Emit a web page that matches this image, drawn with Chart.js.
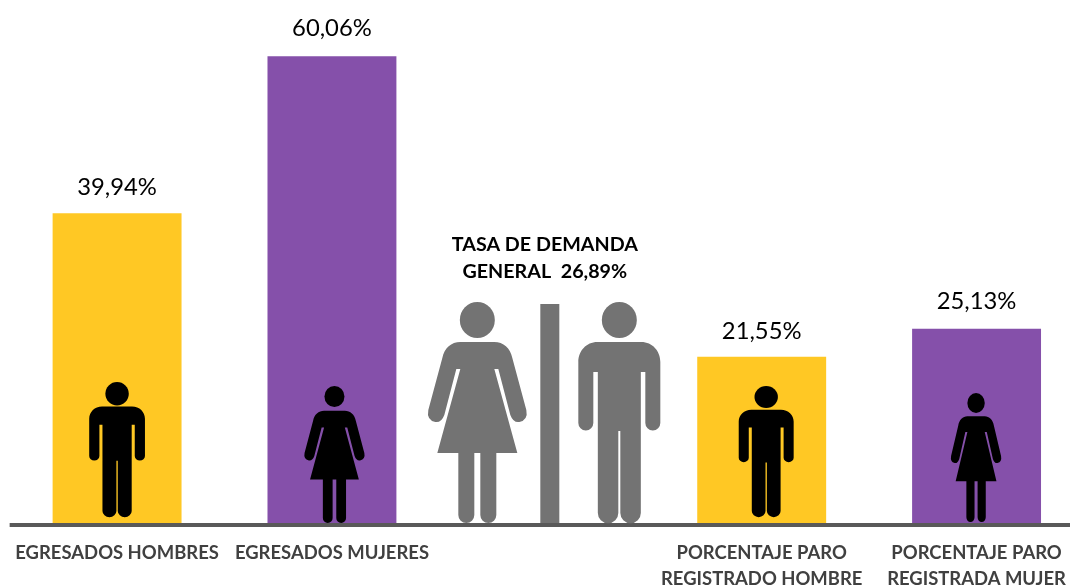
<!DOCTYPE html>
<html lang="es"><head><meta charset="utf-8">
<style>html,body{margin:0;padding:0;background:#fff;overflow:hidden;width:1070px;height:586px}canvas{display:block}</style>
<script src="https://cdn.jsdelivr.net/npm/chart.js@4"></script>
</head><body>
<canvas id="c" width="1090" height="586"></canvas>
<script>
const categories = [
  "EGRESADOS HOMBRES",
  "EGRESADOS MUJERES",
  "",
  ["PORCENTAJE PARO", "REGISTRADO HOMBRE"],
  ["PORCENTAJE PARO", "REGISTRADA MUJER"]
];
const values = [39.94, 60.06, null, 21.55, 25.13];
const barColors = ["#FFC824", "#8550AA", "#737373", "#FFC824", "#8550AA"];
const demandTitle = ["TASA DE DEMANDA", "GENERAL  26,89%"];

const FONT = "Lato, Carlito, sans-serif";
const fmt = v => v.toFixed(2).replace(".", ",") + "%";
const labelLift = {0:26, 1:28, 3:25, 4:28};

function manPath(){
  const p = new Path2D();
  p.moveTo(-22,40); p.lineTo(22,40);
  p.bezierCurveTo(33,40,41,49,41,60);
  p.lineTo(41,121); p.arc(33.5,121,7.5,0,Math.PI);
  p.lineTo(26,70); p.lineTo(21.5,70); p.lineTo(21.5,211);
  p.arc(11.25,211,10.25,0,Math.PI);
  p.lineTo(1,129); p.lineTo(-1,129); p.lineTo(-1,211);
  p.arc(-11.25,211,10.25,0,Math.PI);
  p.lineTo(-21.5,70); p.lineTo(-26,70); p.lineTo(-26,121);
  p.arc(-33.5,121,7.5,0,Math.PI);
  p.lineTo(-41,60);
  p.bezierCurveTo(-41,49,-33,40,-22,40);
  p.closePath();
  return p;
}
function womanPath(){
  const p = new Path2D();
  p.moveTo(-17,40); p.lineTo(17,40);
  p.bezierCurveTo(26,40,33,46,35,56);
  p.lineTo(49,108); p.quadraticCurveTo(51,118,42,120);
  p.quadraticCurveTo(36,121,33,113);
  p.lineTo(21,67); p.lineTo(17,67); p.lineTo(40,151); p.lineTo(19,151);
  p.lineTo(19,213); p.arc(11,213,8,0,Math.PI);
  p.lineTo(3,151); p.lineTo(-3,151); p.lineTo(-3,213);
  p.arc(-11,213,8,0,Math.PI);
  p.lineTo(-19,151); p.lineTo(-40,151); p.lineTo(-17,67); p.lineTo(-21,67);
  p.lineTo(-33,113); p.quadraticCurveTo(-36,121,-42,120);
  p.quadraticCurveTo(-51,118,-49,108);
  p.lineTo(-35,56); p.bezierCurveTo(-33,46,-26,40,-17,40);
  p.closePath();
  return p;
}
const MAN = manPath(), WOMAN = womanPath();
// icon placement: category index, horizontal offset, height, gap above baseline, horizontal scale, head radii
const icons = [
  {i:0, dx:0,    h:135, up:8, sx:0.68, rx:11.7, ry:11.7, path:MAN,   color:"#000"},
  {i:1, dx:2.5,  h:137, up:2, sx:0.61, rx:10,   ry:10.5, path:WOMAN, color:"#000"},
  {i:2, dx:-69.5,h:221, up:2, sx:1,    rx:17.5, ry:18,   path:WOMAN, color:"#737373"},
  {i:2, dx:72.5, h:221, up:2, sx:1,    rx:17.5, ry:18,   path:MAN,   color:"#737373"},
  {i:3, dx:4.5,  h:131, up:8, sx:0.67, rx:11.7, ry:11,   path:MAN,   color:"#000"},
  {i:4, dx:-0.5, h:129, up:3, sx:0.51, rx:8.7,  ry:10,   path:WOMAN, color:"#000"}
];

const decor = {
  id:"decor",
  afterDatasetsDraw(chart){
    const {ctx, chartArea, scales:{x,y}} = chart;
    const y0 = y.getPixelForValue(0);
    ctx.save();
    // baseline
    ctx.fillStyle = "#595959";
    ctx.fillRect(chartArea.left, y0-2, chartArea.right-chartArea.left, 4);
    // separator + pictograms
    ctx.fillStyle = "#737373";
    ctx.fillRect(x.getPixelForValue(2)-6.5, y0-221, 19, 219);
    icons.forEach(o=>{
      const cx = x.getPixelForValue(o.i)+o.dx, top = y0-o.up-o.h;
      ctx.fillStyle = o.color;
      ctx.beginPath();
      ctx.ellipse(cx, top+o.ry, o.rx, o.ry, 0, 0, Math.PI*2);
      ctx.fill();
      ctx.save();
      ctx.translate(cx, top);
      ctx.scale(o.sx, o.h/221);
      ctx.fill(o.path);
      ctx.restore();
    });
    // value labels
    ctx.fillStyle = "#000";
    ctx.textAlign = "center"; ctx.textBaseline = "middle";
    ctx.font = "23.8px "+FONT;
    values.forEach((v,i)=>{
      if(v==null) return;
      ctx.fillText(fmt(v), x.getPixelForValue(i), y.getPixelForValue(v)-labelLift[i]);
    });
    // central annotation
    ctx.font = "bold 19.7px "+FONT;
    ctx.fillText(demandTitle[0], x.getPixelForValue(2)-2, 245);
    ctx.fillText(demandTitle[1], x.getPixelForValue(2)-2, 272);
    ctx.restore();
  }
};

new Chart(document.getElementById("c"),{
  type:"bar",
  data:{labels:categories,datasets:[{data:values,backgroundColor:barColors,borderWidth:0,
    barPercentage:0.6,categoryPercentage:1}]},
  options:{
    responsive:false,animation:false,
    layout:{padding:{left:8,right:6,top:2,bottom:0}},
    plugins:{legend:{display:false},tooltip:{enabled:false},title:{display:false}},
    scales:{
      y:{display:false,min:0,max:67},
      x:{
        afterFit(s){s.height=61;},
        grid:{display:false,drawTicks:false},
        border:{display:false},
        ticks:{autoSkip:false,maxRotation:0,minRotation:0,padding:14.5,color:"#404040",
          font:{family:FONT,size:18.45,weight:"bold",lineHeight:1.44}}
      }
    }
  },
  plugins:[decor]
});
</script>
</body></html>
